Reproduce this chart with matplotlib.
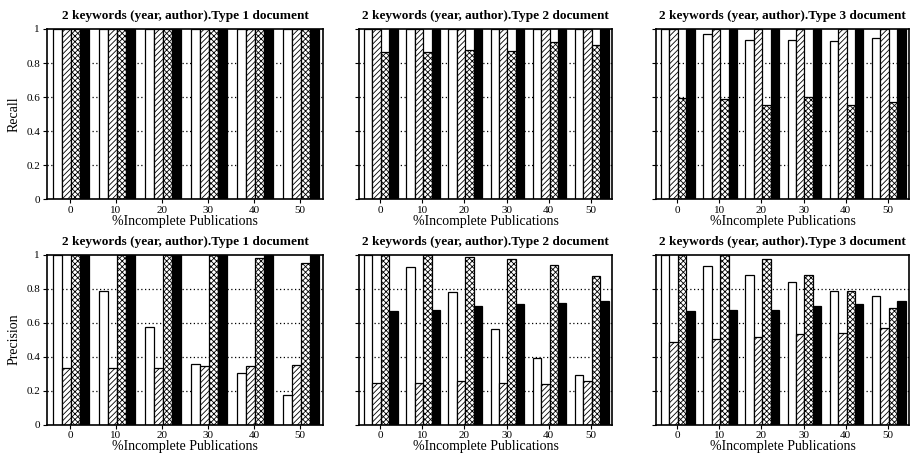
import numpy as np
import matplotlib
matplotlib.use('Agg')
import matplotlib.pyplot as plt

plt.rcParams['font.family'] = ['Liberation Serif', 'DejaVu Serif']
plt.rcParams['hatch.linewidth'] = 0.6

# x categories
incomplete = [0, 10, 20, 30, 40, 50]
yticks = [0, 0.2, 0.4, 0.6, 0.8, 1]
ytick_labels = ['0', '0.2', '0.4', '0.6', '0.8', '1']

# Recall, four series per panel (white, hatched, cross-hatched, black)
recall_t1 = [[1, 1, 1, 1, 1, 1],
             [1, 1, 1, 1, 1, 1],
             [1, 1, 1, 1, 1, 1],
             [1, 1, 1, 1, 1, 1]]
recall_t2 = [[1, 1, 1, 1, 1, 1],
             [1, 1, 1, 1, 1, 1],
             [0.867, 0.863, 0.875, 0.871, 0.922, 0.906],
             [1, 1, 1, 1, 1, 1]]
recall_t3 = [[1.0, 0.973, 0.937, 0.937, 0.93, 0.945],
             [1, 1, 1, 1, 1, 1],
             [0.593, 0.589, 0.552, 0.599, 0.552, 0.571],
             [1, 1, 1, 1, 1, 1]]

# Precision
precision_t1 = [[1.0, 0.788, 0.571, 0.357, 0.302, 0.171],
                [0.331, 0.333, 0.333, 0.345, 0.345, 0.351],
                [1, 1, 1, 1, 0.982, 0.951],
                [1, 1, 1, 1, 1, 1]]
precision_t2 = [[1.0, 0.925, 0.778, 0.561, 0.392, 0.29],
                [0.247, 0.247, 0.253, 0.247, 0.241, 0.253],
                [1, 1, 0.984, 0.971, 0.937, 0.875],
                [0.665, 0.675, 0.698, 0.708, 0.716, 0.725]]
precision_t3 = [[1.0, 0.935, 0.88, 0.837, 0.788, 0.757],
                [0.484, 0.504, 0.512, 0.533, 0.541, 0.567],
                [1, 1, 0.973, 0.88, 0.788, 0.686],
                [0.665, 0.671, 0.673, 0.698, 0.708, 0.724]]

titles = ['2 keywords (year, author).Type 1 document',
          '2 keywords (year, author).Type 2 document',
          '2 keywords (year, author).Type 3 document']

W, H = 910, 453
fig = plt.figure(figsize=(W / 100, H / 100), dpi=100)

# panel boxes in pixels: (left, right) and (top, bottom)
cols = [(47, 323), (359, 612), (656, 909)]
rows = [(29, 199.5), (254.5, 424.5)]

styles = [dict(color='white', hatch=None),
          dict(color='white', hatch='//////'),
          dict(color='white', hatch='xxxxxx'),
          dict(color='black', hatch=None)]
offsets = [-2.8, -0.8, 1.2, 3.2]

x = np.array(incomplete, dtype=float)
panels = [[recall_t1, recall_t2, recall_t3],
          [precision_t1, precision_t2, precision_t3]]

for r, (top, bot) in enumerate(rows):
    for c, (left, right) in enumerate(cols):
        ax = fig.add_axes([left / W, 1 - bot / H, (right - left) / W, (bot - top) / H])
        data = panels[r][c]
        for s in range(4):
            ax.bar(x + offsets[s], data[s], width=2.0, color=styles[s]['color'],
                   hatch=styles[s]['hatch'], edgecolor='black', linewidth=0.9,
                   zorder=3)
        # dotted horizontal grid, hidden behind the bars
        for yv in [0.2, 0.4, 0.6, 0.8]:
            ax.axhline(yv, color='black', linestyle=(0, (1, 2)), linewidth=0.9, zorder=1)
        ax.set_xlim(-5, 55)
        ax.set_ylim(0, 1)
        ax.set_xticks(incomplete)
        ax.set_xticklabels([str(v) for v in incomplete], fontsize=8)
        ax.set_yticks(yticks)
        if c == 0:
            ax.set_yticklabels(ytick_labels, fontsize=8)
            ax.set_ylabel('Recall' if r == 0 else 'Precision', fontsize=10, labelpad=4)
        else:
            ax.set_yticklabels([])
        ax.tick_params(direction='out', length=3, width=0.8, pad=2)
        ax.set_xlabel('%Incomplete Publications', fontsize=10, labelpad=0)
        ax.set_title(titles[c], fontsize=9.5, fontweight='bold', pad=7)
        for sp in ax.spines.values():
            sp.set_linewidth(1.2)
            sp.set_zorder(5)

fig.savefig('out.png', dpi=100)
